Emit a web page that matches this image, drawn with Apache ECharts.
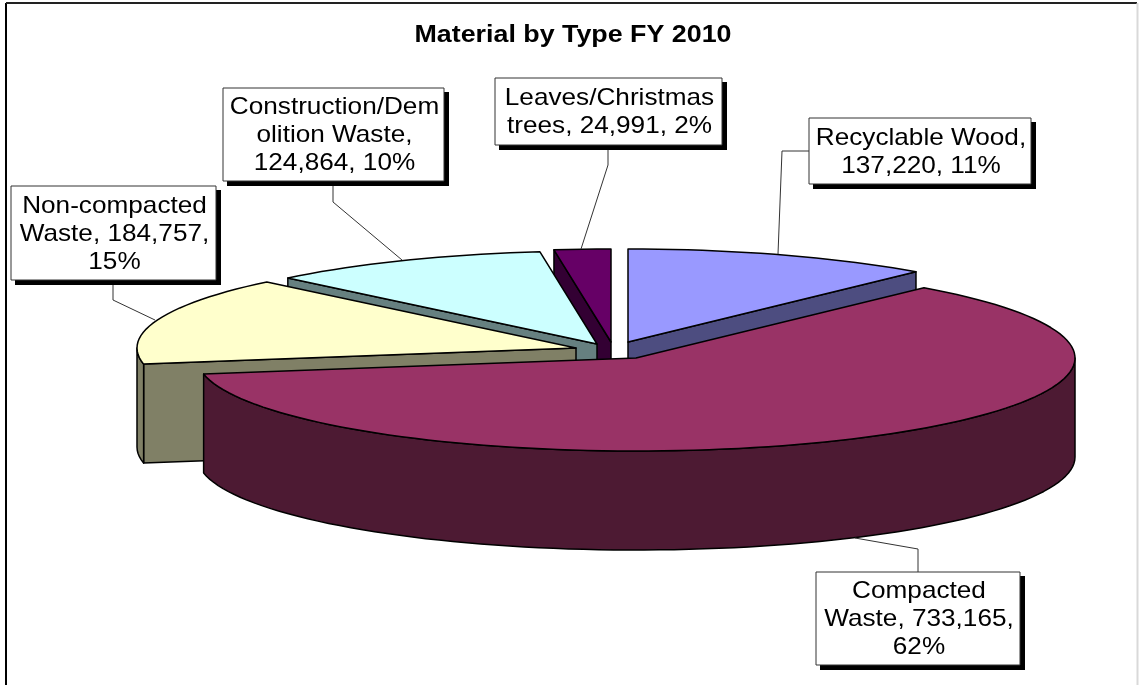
<!DOCTYPE html>
<html><head><meta charset="utf-8">
<style>html,body{margin:0;padding:0;background:#fff}#c{width:1139px;height:685px}</style>
<script src="https://cdn.jsdelivr.net/npm/echarts@6/dist/echarts.min.js"></script>
</head><body><div id="c"></div>
<script>
var titleText = 'Material by Type FY 2010';
var categories = ['Recyclable Wood','Compacted Waste','Non-compacted Waste','Construction/Demolition Waste','Leaves/Christmas trees'];
var values = [137220,733165,184757,124864,24991];
var labelTexts = [
  'Recyclable Wood,\n137,220, 11%',
  'Compacted\nWaste, 733,165,\n62%',
  'Non-compacted\nWaste, 184,757,\n15%',
  'Construction/Dem\nolition Waste,\n124,864, 10%',
  'Leaves/Christmas\ntrees, 24,991, 2%'
];
var topColors = ['#9999ff','#993366','#ffffcc','#ccffff','#660066'];
var sideColors = ['#4d4d80','#4d1a33','#808066','#668080','#330033'];
// exploded slice apex positions
var apexes = [[628,342],[636,358],[576,348],[597,344],[611,342]];
// label boxes x,y,w,h
var boxes = [[809,118,222,66],[816,572,204,93],[11,186,205,94],[223,88,221,93],[495,78,227,67]];
var leaders = [
  [[809,151],[782,151],[778,254]],
  [[918,572],[918,549],[855,538]],
  [[113,280],[113,300],[155,320]],
  [[333,181],[333,202],[402,260]],
  [[608,145],[608,165],[581,249]]
];
var drawOrder = [4,0,3,2,1];
var RX = 439, RY = 93, DEPTH = 99;

var total = values.reduce(function(a,b){return a+b;},0);
var starts = [], ends = [], acc = 0;
values.forEach(function(v){ starts.push(acc/total*360); acc += v; ends.push(acc/total*360); });

function pt(i, deg){
  var r = deg*Math.PI/180, a = apexes[i];
  return [a[0]+RX*Math.sin(r), a[1]-RY*Math.cos(r)];
}
function arc(i, a, b){
  var pts = [], n = Math.max(2, Math.ceil(Math.abs(b-a)/2));
  for (var k=0;k<=n;k++) pts.push(pt(i, a+(b-a)*k/n));
  return pts;
}
function down(p){ return [p[0], p[1]+DEPTH]; }
function poly(points, fill){
  return {type:'polygon', shape:{points:points}, style:{fill:fill, stroke:'#000', lineWidth:1.5, lineJoin:'round'}};
}
function renderSlice(params, api){
  var i = api.value(0), a = starts[i], b = ends[i], kids = [];
  var apex = apexes[i];
  function radial(deg){
    var p = pt(i,deg);
    kids.push(poly([apex,p,down(p),down(apex)], sideColors[i]));
  }
  if (Math.sin(a*Math.PI/180) < -1e-6) radial(a);
  if (Math.sin(b*Math.PI/180) > 1e-6) radial(b);
  var wa = Math.max(a,90), wb = Math.min(b,270);
  if (wb > wa){
    var top = arc(i,wa,wb);
    kids.push(poly(top.concat(top.slice().reverse().map(down)), sideColors[i]));
  }
  kids.push(poly([apex].concat(arc(i,a,b)), topColors[i]));
  return {type:'group', children:kids};
}
function renderLabel(params, api){
  var i = api.value(0), box = boxes[i], kids = [];
  var cx = box[0]+box[2]/2+1, cy = box[1]+box[3]/2+1;
  kids.push({type:'polyline', shape:{points:leaders[i]}, style:{fill:'none', stroke:'#333', lineWidth:1}});
  kids.push({type:'rect', shape:{x:box[0]+4,y:box[1]+4,width:box[2]+1,height:box[3]+1}, style:{fill:'#000'}});
  kids.push({type:'rect', shape:{x:box[0],y:box[1],width:box[2],height:box[3]}, style:{fill:'#fff', stroke:'#333', lineWidth:1}});
  kids.push({type:'text', x:cx, y:cy, scaleX:1.09, style:{
    x:0, y:0, text:labelTexts[i], fill:'#000',
    font:'24px "Liberation Sans", Arial, sans-serif', lineHeight:28, align:'center', verticalAlign:'middle'
  }});
  return {type:'group', children:kids};
}
var chart = echarts.init(document.getElementById('c'), null, {renderer:'canvas'});
chart.setOption({
  animation:false,
  backgroundColor:'#ffffff',
  graphic:[
    {type:'line', silent:true, shape:{x1:6,y1:3,x2:6,y2:685}, style:{stroke:'#000', lineWidth:2}},
    {type:'line', silent:true, shape:{x1:6,y1:3,x2:1137,y2:3}, style:{stroke:'#222', lineWidth:2}},
    {type:'line', silent:true, shape:{x1:1137.5,y1:3,x2:1137.5,y2:685}, style:{stroke:'#d9d9d9', lineWidth:2}},
    {type:'text', silent:true, x:573, y:36, scaleX:1.166, style:{x:0, y:0, text:titleText, fill:'#000',
      font:'bold 23px "Liberation Sans", Arial, sans-serif', align:'center', verticalAlign:'middle'}}
  ],
  series:[
    {type:'custom', coordinateSystem:'none', silent:true, z:2,
     data:drawOrder.map(function(i){return [i, values[i]];}), renderItem:renderSlice},
    {type:'custom', coordinateSystem:'none', silent:true, z:3,
     data:categories.map(function(c,i){return [i, values[i]];}), renderItem:renderLabel}
  ]
});
</script></body></html>
